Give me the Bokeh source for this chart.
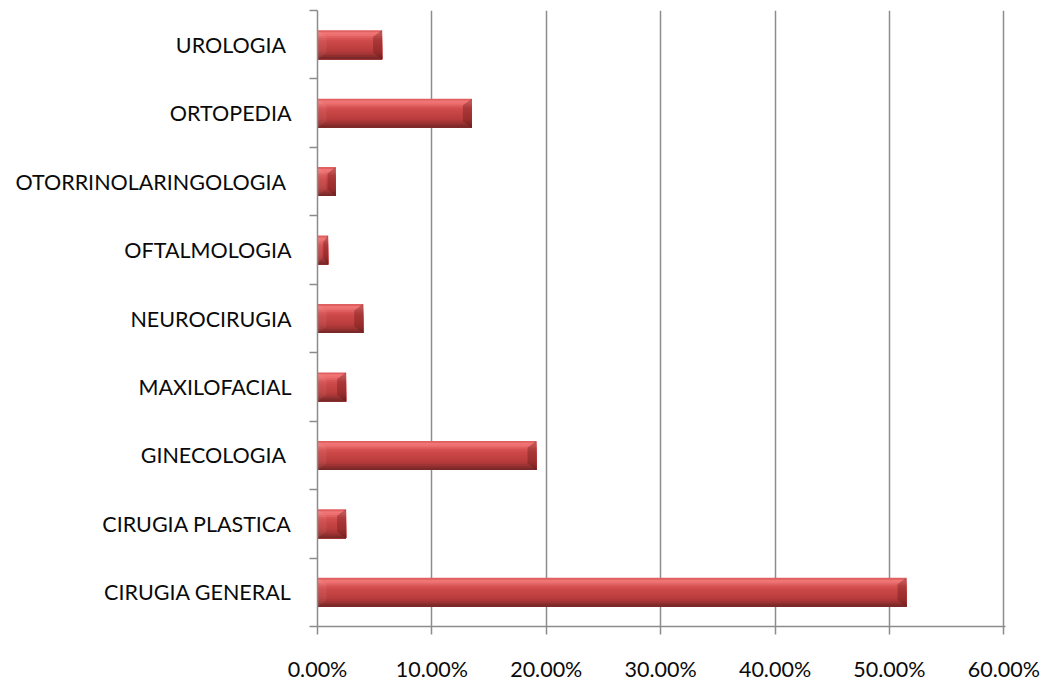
from bokeh.plotting import figure
from bokeh.models import (Range1d, FixedTicker, PrintfTickFormatter, ColumnDataSource)
from bokeh.embed import file_html
from bokeh.resources import INLINE

# Share of surgeries per specialty (%), listed bottom to top
categories = ["CIRUGIA GENERAL", "CIRUGIA PLASTICA", "GINECOLOGIA ", "MAXILOFACIAL",
              "NEUROCIRUGIA", "OFTALMOLOGIA", "OTORRINOLARINGOLOGIA ", "ORTOPEDIA",
              "UROLOGIA "]
values = [51.5, 2.5, 19.15, 2.5, 4.0, 0.93, 1.6, 13.5, 5.65]
x_ticks = [0, 10, 20, 30, 40, 50, 60]

FONT = "Lato"
GRID = "#8c8c8c"

n = len(categories)
p = figure(width=1048, height=685, output_backend="svg", toolbar_location=None,
           x_range=Range1d(0, 60.15), y_range=Range1d(0, n),
           min_border_left=317, min_border_right=43, min_border_top=10,
           min_border_bottom=59, outline_line_color=None,
           background_fill_color="white", border_fill_color="white")

# vertical gridlines only
p.ygrid.visible = False
p.xgrid.ticker = FixedTicker(ticks=x_ticks[1:])
p.xgrid.grid_line_color = GRID
p.xgrid.grid_line_width = 1.5

# x axis: percentages
xa = p.xaxis[0]
xa.ticker = FixedTicker(ticks=x_ticks)
xa.formatter = PrintfTickFormatter(format="%.2f%%")
xa.axis_line_color = GRID
xa.axis_line_width = 1.5
xa.major_tick_line_color = GRID
xa.major_tick_line_width = 1.5
xa.major_tick_in = 0
xa.major_tick_out = 8
xa.minor_tick_line_color = None
xa.major_label_standoff = 21
xa.major_label_text_font = FONT
xa.major_label_text_font_size = "21.5px"
xa.major_label_text_color = "#0a0a0a"

# y axis: labels at category centres, tick marks at category boundaries
centers = [i + 0.5 for i in range(n)]
ya = p.yaxis[0]
ya.ticker = FixedTicker(ticks=centers, minor_ticks=list(range(n + 1)))
ya.major_label_overrides = {c: lab for c, lab in zip(centers, categories)}
ya.axis_line_color = GRID
ya.axis_line_width = 1.5
ya.major_tick_line_color = None
ya.major_tick_in = 0
ya.major_tick_out = 0
ya.minor_tick_line_color = GRID
ya.minor_tick_line_width = 1.5
ya.minor_tick_in = 0
ya.minor_tick_out = 8
ya.major_label_standoff = 18
ya.major_label_text_font = FONT
ya.major_label_text_font_size = "21.5px"
ya.major_label_text_color = "#0a0a0a"

# bevelled bars: vertical shading built from overlapping bands (each band runs
# down to the bar's bottom, so later bands cover the lower part seamlessly)
half = 0.212
shade = ["#e06060", "#f07676", "#ec6e6e", "#e06060", "#d65252", "#cf4b4b",
         "#ca4747", "#c64444", "#c24242", "#be3f3f", "#b83c3c", "#ae3838",
         "#a03434", "#8c2e2e", "#7a2828"]
ns = len(shade)
L, R, T, B, C = [], [], [], [], []
for i, v in enumerate(values):
    top, bot = centers[i] + half, centers[i] - half
    for k, col in enumerate(shade):
        L.append(0.0)
        R.append(v)
        T.append(top - 2 * half * k / ns)
        B.append(bot)
        C.append(col)
p.quad(left="left", right="right", top="top", bottom="bottom", fill_color="color",
       line_color=None,
       source=ColumnDataSource(dict(left=L, right=R, top=T, bottom=B, color=C)))

# chamfered ends
bx_px, by = 9.0, 0.095
px_per_unit = 686 / 60
rx, ry, lx, ly = [], [], [], []
for i, v in enumerate(values):
    top, bot = centers[i] + half, centers[i] - half
    bx = min(bx_px / px_per_unit, v * 0.45)
    rx.append([v, v, v - bx, v - bx])
    ry.append([top, bot, bot + by, top - by])
    lx.append([0, 0, bx, bx])
    ly.append([top, bot, bot + by, top - by])
p.patches(rx, ry, fill_color="#5a1010", fill_alpha=0.32, line_color=None)
p.patches(lx, ly, fill_color="#ffffff", fill_alpha=0.06, line_color=None)

open("out.html", "w").write(file_html(p, INLINE))
